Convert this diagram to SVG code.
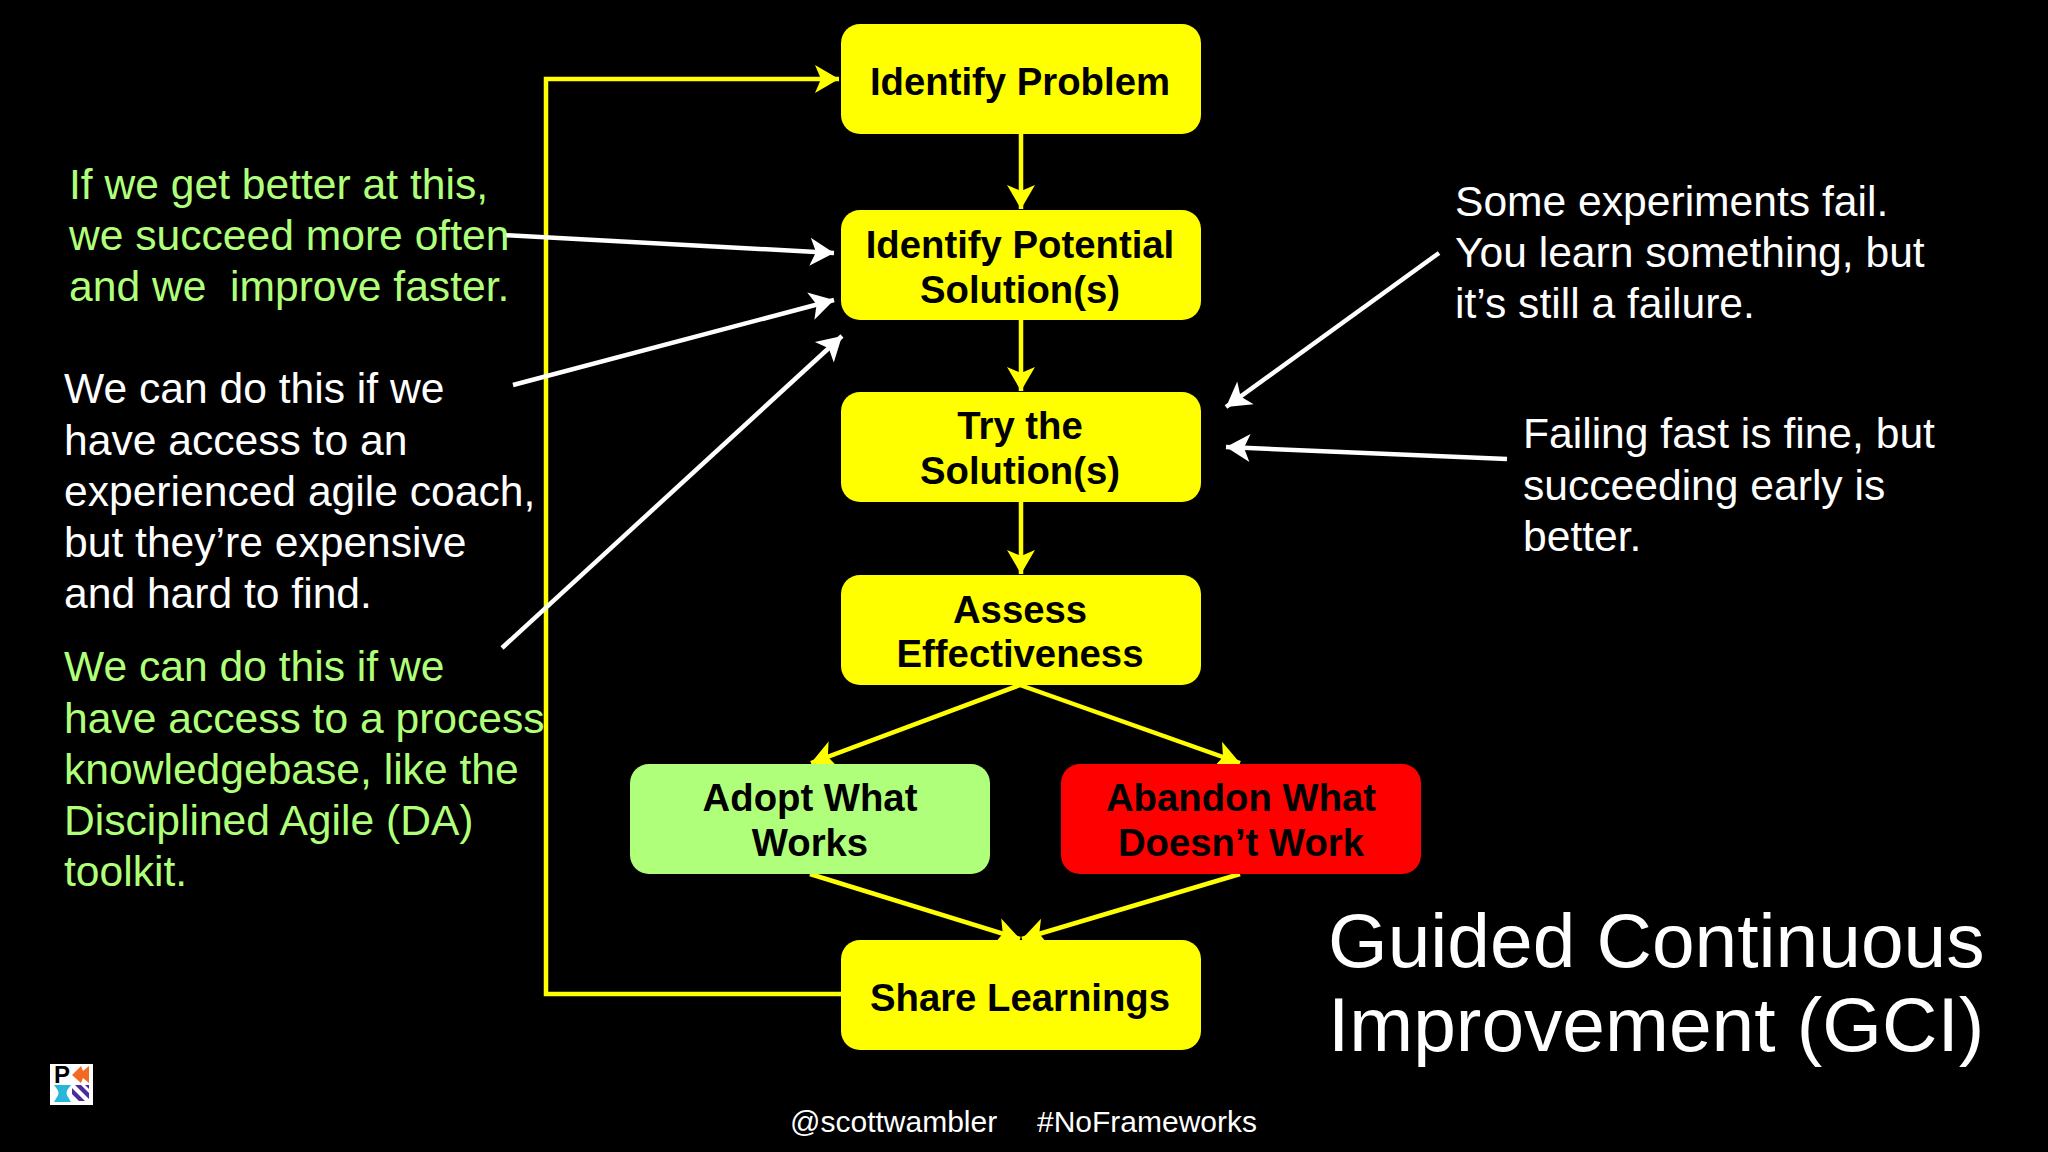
<svg xmlns="http://www.w3.org/2000/svg" width="2048" height="1152" viewBox="0 0 2048 1152">
<style>
text{font-family:"Liberation Sans",Arial,sans-serif}
.n{font-weight:bold;font-size:38.3px;fill:#000;text-anchor:middle}
.w{font-size:42.6px;fill:#fff}
.g{font-size:42.6px;fill:#b0ff7a;white-space:pre}
.y{fill:none;stroke:#ffff00;stroke-width:4.5}
.a{fill:none;stroke:#fff;stroke-width:4.5}
.t{font-size:76.7px;fill:#fff}
.f{font-size:30px;fill:#fff}
</style>
<defs>
<marker id="ay" markerUnits="userSpaceOnUse" markerWidth="30" markerHeight="30" refX="24" refY="14" orient="auto" overflow="visible"><path d="M0 0L24 14L0 28L6 14Z" fill="#ffff00"/></marker>
<marker id="aw" markerUnits="userSpaceOnUse" markerWidth="30" markerHeight="30" refX="24" refY="14" orient="auto" overflow="visible"><path d="M0 0L24 14L0 28L6 14Z" fill="#fff"/></marker>
</defs>
<rect width="2048" height="1152" fill="#000"/>
<g id="connectors">
<path class="y" d="M841 994H546V79H839" marker-end="url(#ay)"/>
<path class="y" d="M1021 134V209" marker-end="url(#ay)"/>
<path class="y" d="M1021 320V391" marker-end="url(#ay)"/>
<path class="y" d="M1021 501V574" marker-end="url(#ay)"/>
<path class="y" d="M1020 685L811 763" marker-end="url(#ay)"/>
<path class="y" d="M1020 685L1240 763" marker-end="url(#ay)"/>
<path class="y" d="M810 874L1020 939" marker-end="url(#ay)"/>
<path class="y" d="M1240 874L1022 939" marker-end="url(#ay)"/>
<path class="a" d="M503 235L834 253" marker-end="url(#aw)"/>
<path class="a" d="M513 385L834 300" marker-end="url(#aw)"/>
<path class="a" d="M502 648L842 336" marker-end="url(#aw)"/>
<path class="a" d="M1439 253L1226 407" marker-end="url(#aw)"/>
<path class="a" d="M1507 459L1226 447" marker-end="url(#aw)"/>
</g>
<g id="identify-problem"><rect x="841" y="24" width="360" height="110" rx="19" fill="#ffff00"/><text class="n" x="1020" y="94.5">Identify Problem</text></g>
<g id="identify-solutions"><rect x="841" y="210" width="360" height="110" rx="19" fill="#ffff00"/><text class="n" x="1020" y="258">Identify Potential</text><text class="n" x="1020" y="302.5">Solution(s)</text></g>
<g id="try-solutions"><rect x="841" y="392" width="360" height="110" rx="19" fill="#ffff00"/><text class="n" x="1020" y="439">Try the</text><text class="n" x="1020" y="483.500">Solution(s)</text></g>
<g id="assess"><rect x="841" y="575" width="360" height="110" rx="19" fill="#ffff00"/><text class="n" x="1020" y="622.500">Assess</text><text class="n" x="1020" y="667">Effectiveness</text></g>
<g id="adopt"><rect x="630" y="764" width="360" height="110" rx="19" fill="#b0ff7a"/><text class="n" x="810" y="811">Adopt What</text><text class="n" x="810" y="855.500">Works</text></g>
<g id="abandon"><rect x="1061" y="764" width="360" height="110" rx="19" fill="#ff0000"/><text class="n" x="1241" y="811">Abandon What</text><text class="n" x="1241" y="855.500">Doesn’t Work</text></g>
<g id="share"><rect x="841" y="940" width="360" height="110" rx="19" fill="#ffff00"/><text class="n" x="1020" y="1010.500">Share Learnings</text></g>
<g id="note-better"><text class="g" x="69" y="199">If we get better at this,</text><text class="g" x="69" y="250">we succeed more often</text><text class="g" x="69" y="301">and we  improve faster.</text></g>
<g id="note-coach"><text class="w" x="64" y="403">We can do this if we</text><text class="w" x="64" y="454.500">have access to an</text><text class="w" x="64" y="506">experienced agile coach,</text><text class="w" x="64" y="557">but they’re expensive</text><text class="w" x="64" y="608">and hard to find.</text></g>
<g id="note-da"><text class="g" x="64" y="681">We can do this if we</text><text class="g" x="64" y="732.500">have access to a process</text><text class="g" x="64" y="784">knowledgebase, like the</text><text class="g" x="64" y="835">Disciplined Agile (DA)</text><text class="g" x="64" y="886">toolkit.</text></g>
<g id="note-fail"><text class="w" x="1455" y="215.500">Some experiments fail.</text><text class="w" x="1455" y="267">You learn something, but</text><text class="w" x="1455" y="318">it’s still a failure.</text></g>
<g id="note-fast"><text class="w" x="1523" y="448">Failing fast is fine, but</text><text class="w" x="1523" y="499.500">succeeding early is</text><text class="w" x="1523" y="551">better.</text></g>
<g id="title"><text class="t" x="1328" y="967">Guided Continuous</text><text class="t" x="1328" y="1050.500">Improvement (GCI)</text></g>
<g id="footer"><text class="f" x="790" y="1132">@scottwambler</text><text class="f" x="1037" y="1132">#NoFrameworks</text></g>
<g id="logo"><rect x="50" y="1064" width="43" height="41" fill="#fff"/>
<text x="54" y="1083" style="font-weight:bold;font-size:24px;fill:#000">P</text>
<path d="M72 1075L81 1066L83 1071L89 1066V1083L83 1078L81 1083Z" fill="#f26a21"/>
<path d="M54 1085H71L68 1089Q65 1093 68 1097L71 1102H54L57 1097Q60 1093 57 1089Z" fill="#29b6d8"/>
<path d="M72 1088L85 1101H79L72 1094ZM75 1085H81L89 1093V1099ZM85 1085H89V1089Z" fill="#4b2a9c"/></g>
</svg>
